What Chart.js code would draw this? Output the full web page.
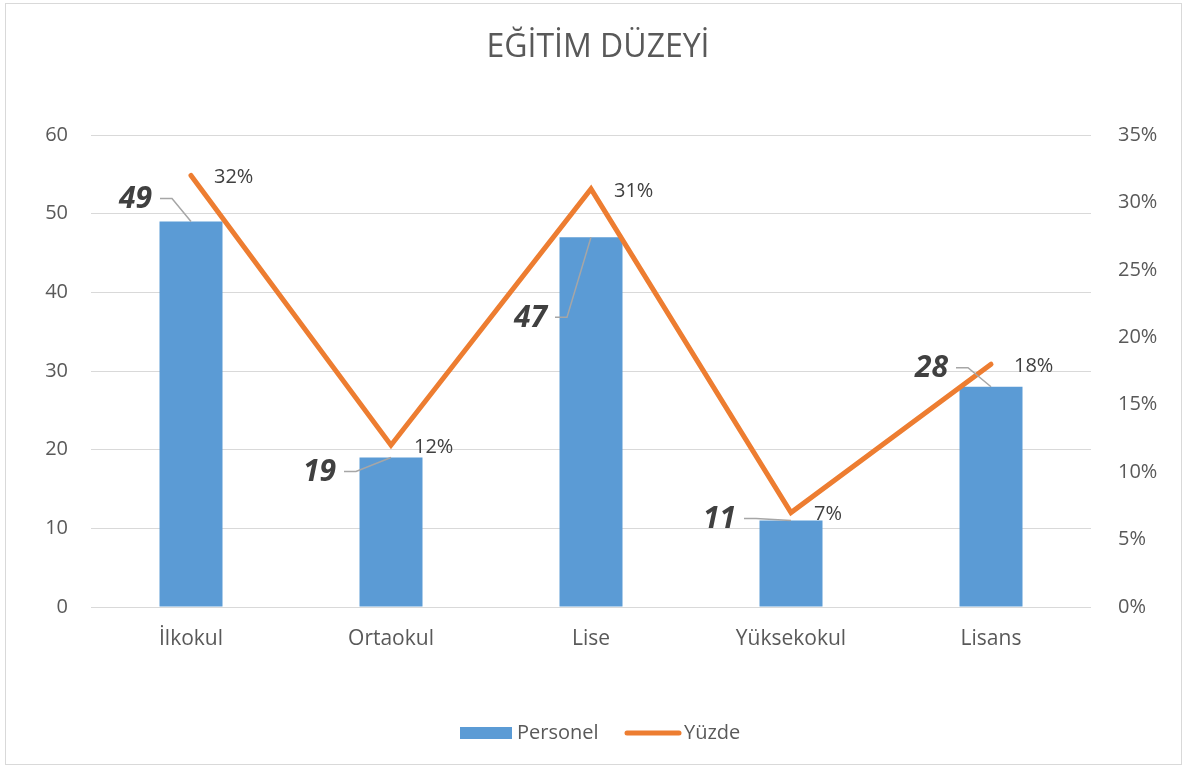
<!DOCTYPE html>
<html>
<head>
<meta charset="utf-8">
<script src="https://cdn.jsdelivr.net/npm/chart.js@4.4.1/dist/chart.umd.min.js"></script>
<style>
html,body{margin:0;padding:0;background:#fff;}
#wrap{position:relative;width:1186px;height:769px;}
#frame{position:absolute;left:5px;top:3px;width:1177px;height:762px;box-sizing:border-box;border:1px solid #d9d9d9;pointer-events:none;}
canvas{position:absolute;left:0;top:0;}
</style>
</head>
<body>
<div id="wrap">
<canvas id="c" width="1186" height="769"></canvas>
<div id="frame"></div>
</div>
<script>
const categories = ['İlkokul', 'Ortaokul', 'Lise', 'Yüksekokul', 'Lisans'];
const personel = [49, 19, 47, 11, 28];
const yuzde = [32, 12, 31, 7, 18];
const leftTicks = [0, 10, 20, 30, 40, 50, 60];
const rightTicks = [0, 5, 10, 15, 20, 25, 30, 35];
const chartTitle = 'EĞİTİM DÜZEYİ';
const seriesNames = ['Personel', 'Yüzde'];

// label placement (style): offset of bar-label right edge from bar top centre
const barLabelOffsets = [[-39, -23], [-55, 14], [-44, 80], [-55, -2], [-43, -19]];

const FONT = '"Open Sans", "Noto Sans", sans-serif';
const TXT = '#595959';
const BLUE = '#5B9BD5';
const ORANGE = '#ED7D31';

const labelPlugin = {
  id: 'labels',
  afterDatasetsDraw(chart) {
    const ctx = chart.ctx;
    const barMeta = chart.getDatasetMeta(0);
    const lineMeta = chart.getDatasetMeta(1);
    ctx.save();
    // percent labels
    ctx.font = '20px ' + FONT;
    ctx.fillStyle = '#404040';
    ctx.textAlign = 'left';
    ctx.textBaseline = 'middle';
    lineMeta.data.forEach((pt, i) => {
      ctx.fillText(yuzde[i] + '%', pt.x + 23, pt.y + 2);
    });
    // bar labels with leader lines
    barMeta.data.forEach((bar, i) => {
      const [dx, dy] = barLabelOffsets[i];
      const lx = bar.x + dx, ly = bar.y + dy;
      ctx.strokeStyle = '#a6a6a6';
      ctx.lineWidth = 1.5;
      ctx.beginPath();
      ctx.moveTo(lx + 8, ly);
      ctx.lineTo(lx + 20, ly);
      ctx.lineTo(bar.x, bar.y);
      ctx.stroke();
      ctx.font = 'italic bold 30px ' + FONT;
      ctx.fillStyle = '#404040';
      ctx.textAlign = 'right';
      ctx.textBaseline = 'middle';
      ctx.fillText(String(personel[i]), lx, ly + 1);
    });
    ctx.restore();
  },
  afterDraw(chart) {
    const ctx = chart.ctx;
    ctx.save();
    // title
    ctx.font = '32px ' + FONT;
    ctx.fillStyle = TXT;
    ctx.textAlign = 'center';
    ctx.textBaseline = 'middle';
    ctx.fillText(chartTitle, 598, 48);
    // legend
    ctx.fillStyle = BLUE;
    ctx.fillRect(460, 727, 52, 12);
    ctx.font = '20px ' + FONT;
    ctx.fillStyle = TXT;
    ctx.textAlign = 'left';
    ctx.fillText(seriesNames[0], 517, 733);
    ctx.strokeStyle = ORANGE;
    ctx.lineWidth = 5;
    ctx.lineCap = 'round';
    ctx.beginPath();
    ctx.moveTo(627, 733);
    ctx.lineTo(679, 733);
    ctx.stroke();
    ctx.fillText(seriesNames[1], 684, 733);
    ctx.restore();
  }
};

new Chart(document.getElementById('c'), {
  data: {
    labels: categories,
    datasets: [
      {
        type: 'bar', label: seriesNames[0], data: personel, yAxisID: 'y',
        backgroundColor: BLUE, categoryPercentage: 1, barPercentage: 0.315, order: 2
      },
      {
        type: 'line', label: seriesNames[1], data: yuzde, yAxisID: 'y1',
        borderColor: ORANGE, borderWidth: 5, pointRadius: 0, tension: 0,
        borderCapStyle: 'round', borderJoinStyle: 'miter', order: 1
      }
    ]
  },
  options: {
    responsive: false,
    animation: false,
    devicePixelRatio: 1,
    layout: { padding: { top: 135, bottom: 102, left: 0, right: 0 } },
    plugins: { legend: { display: false }, title: { display: false }, tooltip: { enabled: false } },
    scales: {
      x: {
        grid: { display: false, drawTicks: false },
        border: { display: false },
        ticks: { color: TXT, font: { family: FONT, size: 21 }, padding: 19 },
        afterFit(s) { s.height = 60; }
      },
      y: {
        position: 'left', min: 0, max: 60,
        afterBuildTicks(s) { s.ticks = leftTicks.map(v => ({ value: v })); },
        grid: { color: '#d9d9d9', lineWidth: 1, drawTicks: false },
        border: { display: false },
        ticks: { color: TXT, font: { family: FONT, size: 20 }, padding: 23 },
        afterFit(s) { s.width = 91; }
      },
      y1: {
        position: 'right', min: 0, max: 35,
        afterBuildTicks(s) { s.ticks = rightTicks.map(v => ({ value: v })); },
        grid: { display: false, drawTicks: false },
        border: { display: false },
        ticks: { color: TXT, font: { family: FONT, size: 20 }, padding: 27, callback: v => v + '%' },
        afterFit(s) { s.width = 95; }
      }
    }
  },
  plugins: [labelPlugin]
});
</script>
</body>
</html>
